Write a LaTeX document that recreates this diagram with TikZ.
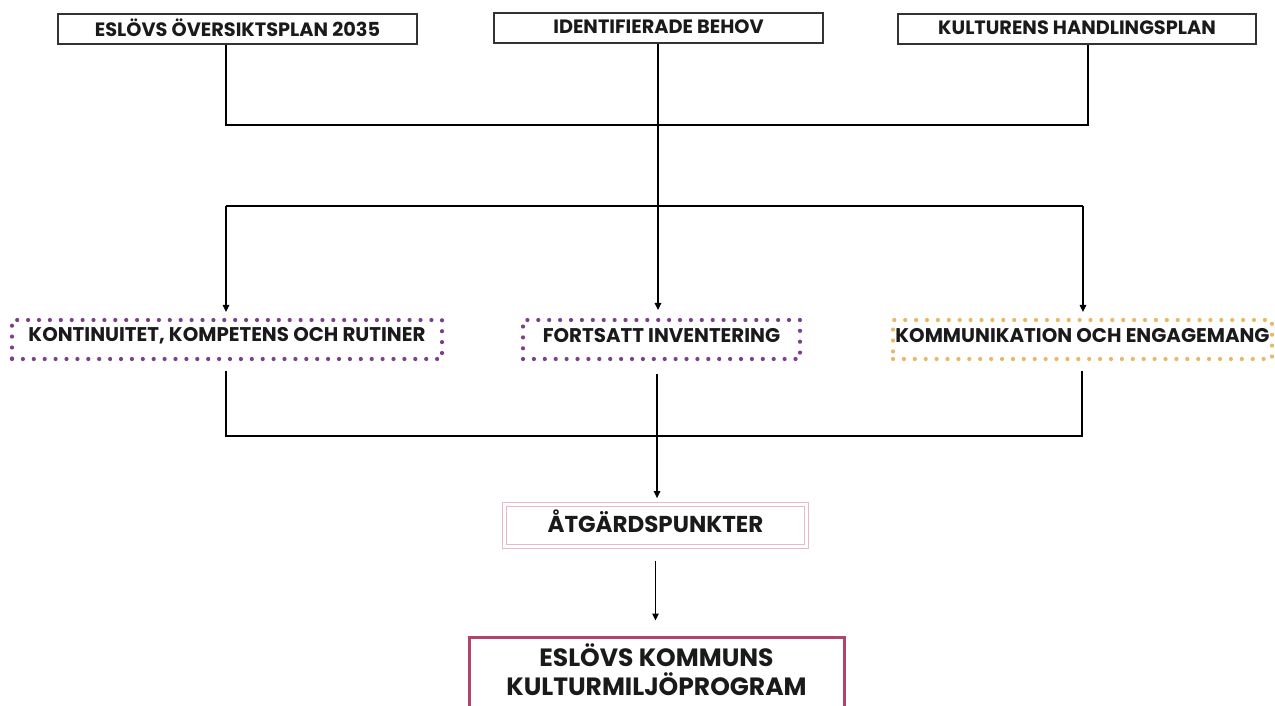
\documentclass[tikz,border=0pt]{standalone}
\usepackage{fontspec}
\setmainfont{Poppins}
\usetikzlibrary{arrows.meta,calc}
\definecolor{txt}{HTML}{1A1A1A}
\definecolor{purp}{HTML}{7B3F8C}
\definecolor{gold}{HTML}{E8B865}
\definecolor{lpink}{HTML}{E9B9C9}
\definecolor{crim}{HTML}{B0446C}
\newcommand{\upby}[2]{\raisebox{#1}[\height][\depth]{#2}}
\begin{document}
\begin{tikzpicture}[x=1pt,y=-1pt,
  topbox/.style={draw=black!80,line width=1.6pt,minimum height=30pt,inner sep=0pt,text=txt,font=\fontsize{19.3}{20}\selectfont\bfseries},
  dotbox/.style={line width=4.2pt,dash pattern=on 0pt off 10.9pt,line cap=round,minimum height=39pt,inner sep=0pt,text=txt,font=\fontsize{19.8}{22}\selectfont\bfseries},
  conn/.style={line width=1.3pt,draw=black},
  arr/.style={conn,-{Triangle[length=7pt,width=6.5pt]}}]
\useasboundingbox (0,0) rectangle (1275,706);
\fill[white] (0,0) rectangle (1275,706);
% top boxes
\node[topbox,minimum width=359pt] (b1) at (237.5,29) {\upby{1pt}{ESLÖVS ÖVERSIKTSPLAN 2035}};
\node[topbox,minimum width=329pt] (b2) at (658.5,28) {\upby{1pt}{IDENTIFIERADE BEHOV}};
\node[topbox,minimum width=358pt] (b3) at (1077,29) {\upby{1pt}{KULTURENS HANDLINGSPLAN}};
% middle dotted boxes
\node[dotbox,draw=purp,minimum width=430pt] (b4) at (227,339.5) {\upby{4pt}{KONTINUITET, KOMPETENS OCH RUTINER}};
\node[dotbox,draw=purp,minimum width=277pt] (b5) at (661.5,339.5) {\upby{4pt}{FORTSATT INVENTERING}};
\node[dotbox,draw=gold,minimum width=379pt] (b6) at (1082.5,339.5) {\upby{4pt}{KOMMUNIKATION OCH ENGAGEMANG}};
% action points
\node[draw=lpink,line width=0.8pt,double=white,double distance=2.6pt,minimum width=302pt,minimum height=42pt,inner sep=0pt,text=txt,font=\fontsize{23}{24}\selectfont\bfseries] (b7) at (655.5,525.5) {\upby{4pt}{ÅTGÄRDSPUNKTER}};
% final
\node[draw=crim,line width=3pt,minimum width=375pt,minimum height=70pt,inner sep=0pt] (b8) at (656.5,672) {};
\node[align=center,inner sep=0pt,text=txt,font=\fontsize{25}{29}\selectfont\bfseries] (b8t) at (656.5,670) {ESLÖVS KOMMUNS\\KULTURMILJÖPROGRAM};
% junctions
\coordinate (c1) at (226,125);
\coordinate (c3) at (1088,125);
\coordinate (c2) at (658,206);
\coordinate (d1) at (226,206);
\coordinate (d3) at (1083,206);
\coordinate (e1) at (226,436);
\coordinate (e3) at (1082,436);
\coordinate (e2) at (657,436);
% connectors
\draw[conn] (b1.south -| c1) -- (c1) -- (c3) -- (b3.south -| c3);
\draw[arr,shorten >=8pt] (b2.south -| c2) -- (b5.north -| c2);
\draw[conn] (d1) -- (d3);
\draw[arr,shorten >=6pt] (d1) -- (b4.north -| d1);
\draw[arr,shorten >=6pt] (d3) -- (b6.north -| d3);
\draw[conn,shorten <=10pt,shorten >=10pt] (b4.south -| e1) -- (e1) -- (e3) -- (b6.south -| e3);
\draw[arr,shorten <=13pt,shorten >=6pt] (b5.south -| e2) -- (b7.north -| e2);
\draw[arr,shorten <=14pt,shorten >=15pt] (b7.south) -- (b7.south |- b8.north);
\end{tikzpicture}
\end{document}
